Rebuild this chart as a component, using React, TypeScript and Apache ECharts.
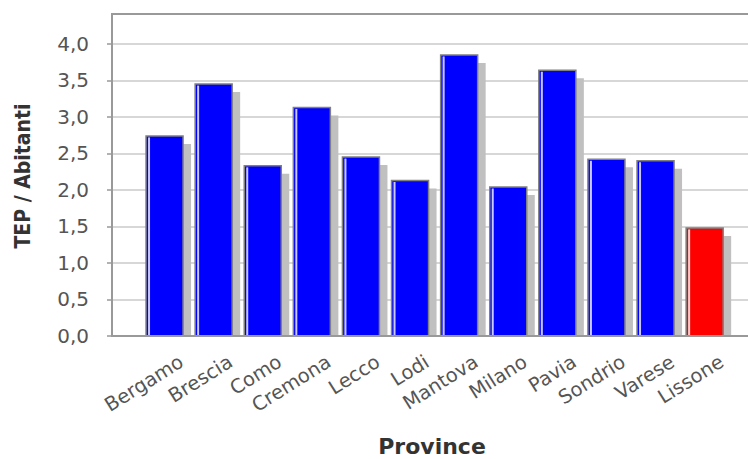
import React, { useEffect, useRef } from 'react';
import * as echarts from 'echarts';

const categories = ['Bergamo', 'Brescia', 'Como', 'Cremona', 'Lecco', 'Lodi', 'Mantova', 'Milano', 'Pavia', 'Sondrio', 'Varese', 'Lissone'];
const values = [2.74, 3.45, 2.33, 3.13, 2.45, 2.13, 3.85, 2.04, 3.64, 2.42, 2.40, 1.48];
const highlighted = 'Lissone';
const yTicks = [0, 0.5, 1, 1.5, 2, 2.5, 3, 3.5, 4];
const yMax = 4.41;
const xName = 'Province';
const yName = 'TEP / Abitanti';

const fmt = (v: number) => v.toFixed(1).replace('.', ',');

export default function App() {
  const ref = useRef<HTMLDivElement>(null);
  useEffect(() => {
    if (!ref.current) return;
    const chart = echarts.init(ref.current, undefined, { renderer: 'svg' });
    const option: any = {
      animation: false,
      backgroundColor: '#ffffff',
      grid: [
        { left: 112, right: 0, top: 14, bottom: 123 },
        { left: 140, right: 18.8, top: 14, bottom: 123 },
        { left: 157, right: 1.8, top: 14, bottom: 123 },
      ],
      xAxis: [
        {
          gridIndex: 0, type: 'value', min: 0, max: 1, offset: 7,
          axisLine: { show: true, lineStyle: { color: '#999', width: 2 } },
          axisTick: { show: false }, axisLabel: { show: false }, splitLine: { show: false },
        },
        {
          gridIndex: 1, type: 'category', data: categories,
          axisLine: { show: false }, axisTick: { show: false }, axisLabel: { show: false }, splitLine: { show: false },
        },
        {
          gridIndex: 2, type: 'category', data: categories,
          axisLine: { show: false }, axisTick: { show: false }, splitLine: { show: false },
          axisLabel: { interval: 0, rotate: 32, margin: 24, fontFamily: 'DejaVu Sans', fontSize: 19.5, color: '#555' },
        },
      ],
      yAxis: [
        {
          gridIndex: 0, type: 'value', min: 0, max: yMax, interval: 0.5, offset: 9,
          axisLine: { show: true, lineStyle: { color: '#999', width: 2 } },
          axisTick: { show: true, length: 5, customValues: yTicks, lineStyle: { color: '#999', width: 1.5 } },
          axisLabel: {
            customValues: yTicks, formatter: (v: number) => fmt(v), margin: 14,
            fontFamily: 'DejaVu Sans', fontSize: 20, color: '#555',
          },
          splitLine: { show: true, lineStyle: { color: '#cacaca', width: 1.5 } },
        },
        { gridIndex: 1, type: 'value', min: 0, max: yMax, show: false },
        { gridIndex: 2, type: 'value', min: 0, max: yMax, show: false },
      ],
      graphic: [
        {
          type: 'rect', z: 100, silent: true,
          shape: { x: 112, y: 14, width: 700, height: 322 },
          style: { fill: 'none', stroke: '#999', lineWidth: 2 },
        },
        {
          type: 'text', x: 23, y: 176, rotation: Math.PI / 2,
          style: {
            text: yName, fontFamily: 'DejaVu Sans Condensed, DejaVu Sans', fontWeight: 'bold', fontSize: 21,
            fill: '#333', align: 'center', verticalAlign: 'middle', textAlign: 'center', textVerticalAlign: 'middle',
          },
        },
        {
          type: 'text', x: 432, y: 446,
          style: {
            text: xName, fontFamily: 'DejaVu Sans', fontWeight: 'bold', fontSize: 22,
            fill: '#333', align: 'center', verticalAlign: 'middle', textAlign: 'center', textVerticalAlign: 'middle',
          },
        },
      ],
      series: [
        {
          type: 'custom',
          xAxisIndex: 1,
          yAxisIndex: 1,
          data: values.map((v, i) => [i, v]),
          encode: { x: 0, y: 1 },
          renderItem: (params: any, api: any) => {
            const idx = api.value(0);
            const v = api.value(1);
            const top = api.coord([idx, v]);
            const base = api.coord([idx, 0]);
            const band = api.size([1, 0])[0];
            const w = band * 0.754;
            const x = top[0] - w / 2;
            const h = base[1] - top[1];
            const isHi = categories[idx] === highlighted;
            const color = isHi ? '#ff0000' : '#0000ff';
            const light = isHi ? '#ffd6d6' : '#c8c8ff';
            return {
              type: 'group',
              children: [
                { type: 'rect', shape: { x: x + 8, y: top[1] + 8, width: w, height: Math.max(0, h - 8) }, style: { fill: '#c0c0c0' } },
                { type: 'rect', shape: { x, y: top[1], width: w, height: h }, style: { fill: color, stroke: '#808080', lineWidth: 1.5 } },
                { type: 'line', shape: { x1: x + 3, y1: top[1] + 1.5, x2: x + 3, y2: base[1] }, style: { stroke: light, lineWidth: 2 } },
              ],
            };
          },
        },
      ],
    };
    chart.setOption(option);
    return () => chart.dispose();
  }, []);
  return <div ref={ref} style={{ position: 'fixed', left: 0, top: 0, width: 748, height: 459 }} />;
}
